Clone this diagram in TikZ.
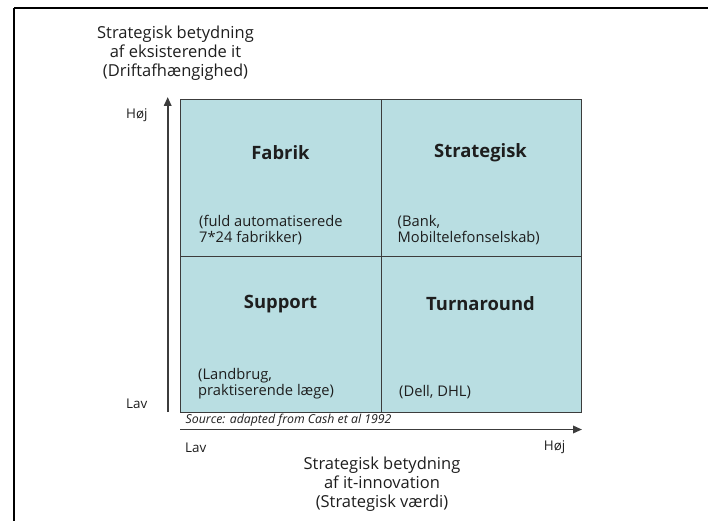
\documentclass[tikz,border=0pt]{standalone}
\usepackage{fontspec}
\setmainfont{Open Sans}
\usetikzlibrary{arrows.meta}
\definecolor{cellfill}{RGB}{185,222,226}
\definecolor{gridline}{RGB}{60,60,60}
\definecolor{inktext}{RGB}{30,30,30}
\tikzset{
  cell/.style={draw=gridline, line width=1.1pt, fill=cellfill, minimum width=200.5pt, minimum height=156.5pt, inner sep=0pt, anchor=north west},
  celltitle/.style={font=\fontsize{18.4}{21}\selectfont\bfseries, text=inktext, inner sep=0pt},
  cellnote/.style={font=\fontsize{14.7}{16.5}\selectfont, text=inktext, align=left, anchor=west, inner sep=0pt},
  axislabel/.style={font=\fontsize{13.4}{15}\selectfont, text=inktext, inner sep=0pt},
  axistitle/.style={font=\fontsize{16.5}{19}\selectfont, text=inktext, align=center, inner sep=0pt},
  axisarrow/.style={draw=gridline, line width=1.8pt, -{Triangle[length=9pt,width=7.5pt]}},
  frameline/.style={draw=black, line width=2.2pt}
}
\begin{document}
\begin{tikzpicture}[x=1pt,y=-1pt]
\useasboundingbox (0,0) rectangle (708,521);
% open frame: top and left edges
\draw[frameline] (14,8) -- (708,8);
\draw[frameline] (14,8) -- (14,521);

% the four quadrants
\node[cell] (fab)  at (180,99)    {};
\node[cell] (str)  at (380.5,99)  {};
\node[cell] (sup)  at (180,255.5) {};
\node[cell] (turn) at (380.5,255.5) {};

% quadrant titles
\node[celltitle] (tfab)  at (280.5,153) {Fabrik};
\node[celltitle] (tstr)  at (480.5,153) {Strategisk};
\node[celltitle] (tsup)  at (280.5,304) {Support};
\node[celltitle] (tturn) at (480.5,304) {Turnaround};

% quadrant examples
\node[cellnote] (nfab)  at (199,230) {(fuld automatiserede\\7*24 fabrikker)};
\node[cellnote] (nstr)  at (397.5,230) {(Bank,\\Mobiltelefonselskab)};
\node[cellnote] (nsup)  at (198,383.5) {(Landbrug,\\praktiserende læge)};
\node[cellnote] (nturn) at (399,392) {(Dell, DHL)};

% axes
\coordinate (yfoot) at (167.7,412);
\coordinate (ytip)  at (167.7,97);
\coordinate (xfoot) at (180,429.5);
\coordinate (xtip)  at (582,429.5);
\draw[axisarrow] (yfoot) -- (ytip);
\draw[axisarrow] (xfoot) -- (xtip);

% source note
\node[font=\fontsize{12.3}{13}\selectfont\itshape, text=inktext, anchor=west, inner sep=0pt] (src) at (185.5,420.5) {Source: adapted from Cash et al 1992};

% axis end labels
\node[axislabel, anchor=west] (yhigh) at (126,115) {Høj};
\node[axislabel, anchor=west] (ylow)  at (126,403.5) {Lav};
\node[axislabel, anchor=west] (xlow)  at (185,447.5) {Lav};
\node[axislabel, anchor=east] (xhigh) at (565.5,447.5) {Høj};

% axis titles
\node[axistitle] (ytitle) at (175.5,53) {Strategisk betydning\\af eksisterende it\\(Driftafhængighed)};
\node[axistitle] (xtitle) at (382,484.5) {Strategisk betydning\\af it-innovation\\(Strategisk værdi)};
\end{tikzpicture}
\end{document}
